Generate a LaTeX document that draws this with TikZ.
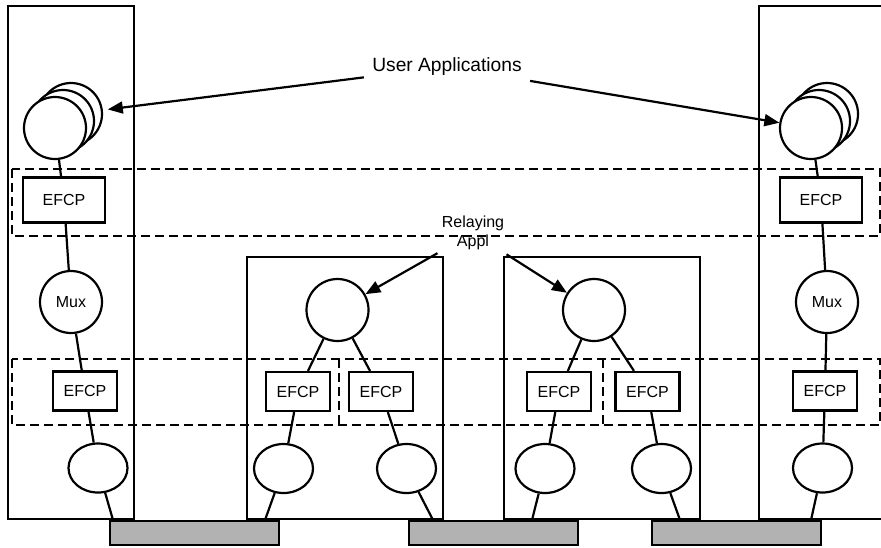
\documentclass[tikz,border=0pt]{standalone}
\usepackage{fontspec}
\setmainfont{Liberation Sans}
\usetikzlibrary{arrows.meta,positioning,shapes.geometric}

\begin{document}
\begin{tikzpicture}[x=0.5pt, y=-0.5pt, >={Triangle[length=7.5pt,width=6pt]},
    every node/.style={font=\fontsize{8}{9.5}\selectfont},
    sysbox/.style={draw, line width=1.15pt},
    band/.style={draw, line width=1.15pt, dash pattern=on 4.5pt off 2.5pt},
    efcp/.style={draw, line width=1.1pt, fill=white, minimum width=32pt, minimum height=19.5pt, inner sep=0pt},
    efcpbig/.style={efcp, minimum width=41pt, minimum height=22.5pt},
    proc/.style={draw, circle, line width=1.1pt, fill=white, minimum size=31pt, inner sep=0pt},
    port/.style={draw, ellipse, line width=1.1pt, fill=white, minimum width=29.5pt, minimum height=24.5pt, inner sep=0pt},
    wire/.style={line width=1.1pt},
    medium/.style={draw, line width=1.1pt, fill=gray!60, minimum width=84.5pt, minimum height=12pt, inner sep=0pt}]
    \useasboundingbox (0,0) rectangle (881,547);
    % systems
    \draw[sysbox] (8,6) rectangle (134,519);
    \draw[sysbox] (247,257) rectangle (443,519);
    \draw[sysbox] (504,257) rectangle (700,519);
    \draw[sysbox] (881,6) -- (759,6) -- (759,519) -- (881,519);
    % layers
    \draw[band] (12,169) rectangle (880,236);
    \draw[band] (12,359) rectangle (880,425);
    \draw[band] (339,359) -- (339,425);
    \draw[band] (603,359) -- (603,425);
    % left host
    \node[proc] (ua1c) at (71,114) {};
    \node[proc] (ua1b) at (63,121) {};
    \node[proc] (ua1) at (55,128) {};
    \node[efcpbig] (e1) at (64,200) {EFCP};
    \node[proc] (mux1) at (71,302) {Mux};
    \node[efcp] (e1l) at (85,391) {EFCP};
    \node[port] (p1) at (98,468) {};
    % right host
    \node[proc] (ua2c) at (827,114) {};
    \node[proc] (ua2b) at (819,121) {};
    \node[proc] (ua2) at (811,128) {};
    \node[efcpbig] (e2) at (821,200) {EFCP};
    \node[proc] (mux2) at (827,302) {Mux};
    \node[efcp] (e2l) at (825,391) {EFCP};
    \node[port] (p2) at (822.5,468) {};
    % router 1
    \node[proc] (r1) at (337.5,310) {};
    \node[efcp] (r1el) at (298,391.5) {EFCP};
    \node[efcp] (r1er) at (381,391.5) {EFCP};
    \node[port] (r1pl) at (283.5,468.5) {};
    \node[port] (r1pr) at (406.5,468.5) {};
    % router 2
    \node[proc] (r2) at (594,310) {};
    \node[efcp] (r2el) at (559,391.5) {EFCP};
    \node[efcp] (r2er) at (647.5,391.5) {EFCP};
    \node[port] (r2pl) at (545,468.5) {};
    \node[port] (r2pr) at (661.5,468.5) {};
    % media
    \node[medium] (m1) at (194.5,533) {};
    \node[medium] (m2) at (493.5,533) {};
    \node[medium] (m3) at (736.5,533) {};
    \coordinate (m1a) at (113,520);
    \coordinate (m1b) at (265,520);
    \coordinate (m2a) at (433,520);
    \coordinate (m2b) at (532,520);
    \coordinate (m3a) at (680,520);
    \coordinate (m3b) at (811,520);
    % stacks
    \draw[wire] (ua1) -- (e1) -- (mux1) -- (e1l) -- (p1) -- (m1a);
    \draw[wire] (ua2) -- (e2) -- (mux2) -- (e2l) -- (p2) -- (m3b);
    \draw[wire] (r1) -- (r1el) -- (r1pl) -- (m1b);
    \draw[wire] (r1) -- (r1er) -- (r1pr) -- (m2a);
    \draw[wire] (r2) -- (r2el) -- (r2pl) -- (m2b);
    \draw[wire] (r2) -- (r2er) -- (r2pr) -- (m3a);
    % labels
    \node[font=\fontsize{9.6}{11}\selectfont, inner sep=4pt] (ualbl) at (447,67) {User Applications};
    \draw[wire, ->, shorten >=2.5pt] (ualbl) -- (ua1c);
    \draw[wire, ->] (ualbl) -- (ua2);
    \node[align=center, inner sep=2pt] (rlbl) at (473,233) {Relaying\\Appl};
    \draw[wire, ->] (rlbl) -- (r1);
    \draw[wire, ->] (rlbl) -- (r2);
\end{tikzpicture}
\end{document}
